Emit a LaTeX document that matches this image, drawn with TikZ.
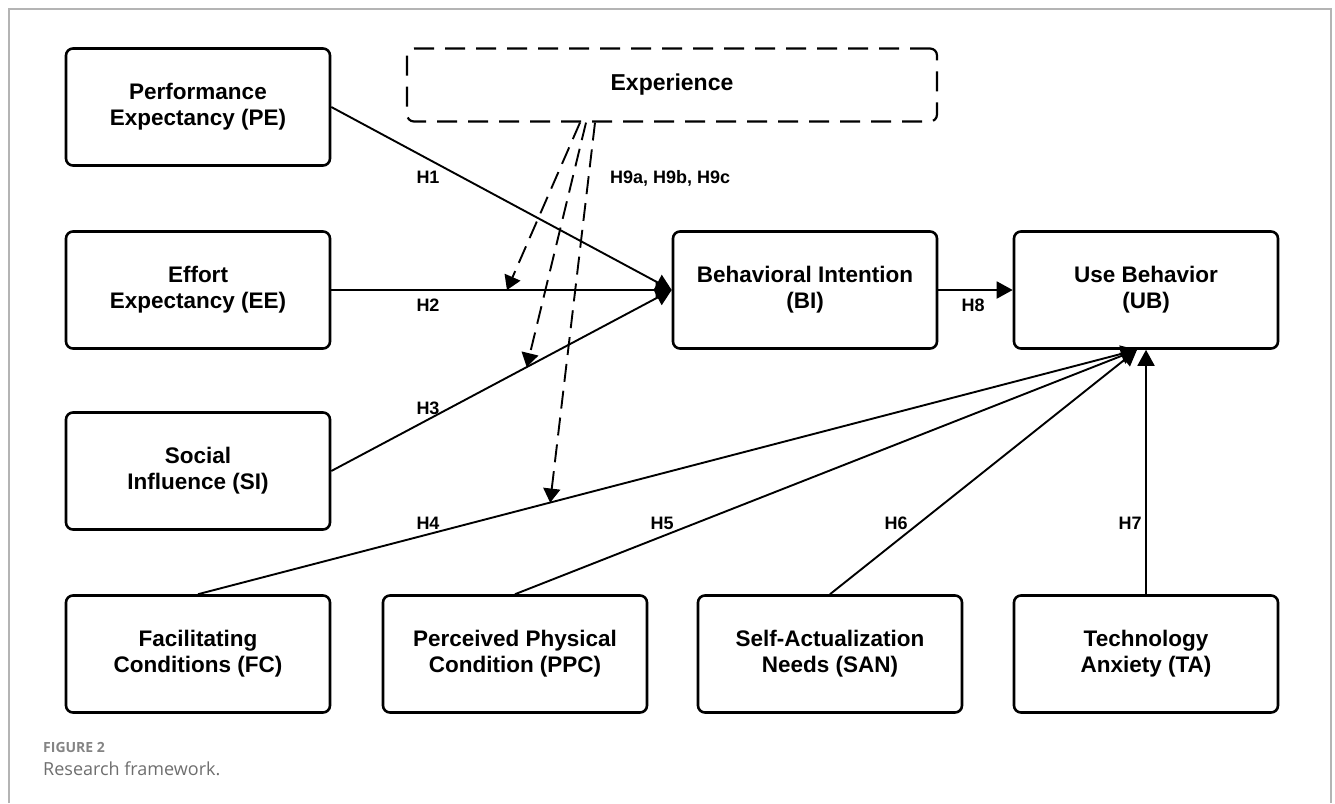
\documentclass[tikz,border=0pt]{standalone}
\usepackage{fontspec}
\setmainfont{Liberation Sans}
\newfontfamily\capfont{Open Sans}
\usetikzlibrary{arrows.meta,calc}
\definecolor{framegray}{HTML}{B4B4B4}
\definecolor{capgray}{HTML}{6E6E6E}
\newcommand\twoline[2]{\raisebox{-4pt}{\begin{tabular}{@{}c@{}}#1\\#2\end{tabular}}}
\begin{document}
\begin{tikzpicture}[x=1pt,y=-1pt,
  box/.style={draw, line width=2.6pt, rounded corners=7pt, minimum width=264pt, minimum height=117pt,
    inner sep=0pt, font=\fontsize{22.5}{26}\selectfont\bfseries},
  expbox/.style={draw, line width=2.2pt, rounded corners=7pt, dash pattern=on 20pt off 11pt,
    minimum width=530pt, minimum height=73pt, inner sep=0pt, font=\fontsize{23}{26}\selectfont\bfseries},
  conn/.style={line width=1.9pt, -{Triangle[length=16pt,width=17pt]}},
  modarr/.style={line width=1.9pt, dash pattern=on 18pt off 9pt, -{Triangle[length=14pt,width=17pt]}},
  hlab/.style={font=\fontsize{18}{21}\selectfont\bfseries, inner sep=0pt},
  frameline/.style={draw=framegray, line width=1.8pt}]
\useasboundingbox (0,0) rectangle (1335,803);
\draw[frameline] (9,803) -- (9,9) -- (1331,9) -- (1331,803);

% boxes
\node[box] (pe)  at (198,107) {\twoline{Performance}{Expectancy (PE)}};
\node[box] (ee)  at (198,290) {\twoline{Effort}{Expectancy (EE)}};
\node[box] (si)  at (198,471) {\twoline{Social}{Influence (SI)}};
\node[box] (fc)  at (198,654) {\twoline{Facilitating}{Conditions (FC)}};
\node[box] (ppc) at (515,654) {\twoline{Perceived Physical}{Condition (PPC)}};
\node[box] (san) at (830,654) {\twoline{Self-Actualization}{Needs (SAN)}};
\node[box] (ta)  at (1146,654) {\twoline{Technology}{Anxiety (TA)}};
\node[box] (bi)  at (805,290) {\twoline{Behavioral Intention}{(BI)}};
\node[box] (ub)  at (1146,290) {\twoline{Use Behavior}{(UB)}};
\node[expbox] (exp) at (672,85) {Experience};

% main connectors
\draw[conn] (pe.east) -- (bi.west);
\draw[conn] (ee.east) -- coordinate[pos=0.516] (m2) (bi.west);
\draw[conn] (si.east) -- coordinate[pos=0.574] (m3) (bi.west);
\draw[conn] (bi.east) -- (ub.west);
\coordinate (ubin) at ($(ub.south)+(-9,0)$);
\draw[conn] (fc.north) -- coordinate[pos=0.375] (m4) (ubin);
\draw[conn] (ppc.north) -- (ubin);
\draw[conn] (san.north) -- (ubin);
\draw[conn] (ta.north) -- (ub.south);

% moderating arrows
\coordinate (e1) at ($(exp.south)+(-92,0)$);
\coordinate (e2) at ($(exp.south)+(-86,0)$);
\coordinate (e3) at ($(exp.south)+(-77,0)$);
\draw[modarr] (e1) -- (m2);
\draw[modarr] (e2) -- (m3);
\draw[modarr] (e3) -- (m4);

% labels
\node[hlab] (h1) at (428,177) {H1};
\node[hlab] (h2) at (428,305) {H2};
\node[hlab] (h3) at (428,408) {H3};
\node[hlab] (h4) at (428,523) {H4};
\node[hlab] (h5) at (662,523) {H5};
\node[hlab] (h6) at (896,523) {H6};
\node[hlab] (h7) at (1130,523) {H7};
\node[hlab] (h8) at (973,305) {H8};
\node[hlab, anchor=west] (h9) at (610,178) {H9a, H9b, H9c};

% caption
\node[anchor=base west, inner sep=0pt, text=capgray!85, font=\capfont\fontsize{14}{16}\selectfont\bfseries] (fig) at (43,752) {FIGURE 2};
\node[anchor=base west, inner sep=0pt, text=capgray, font=\capfont\fontsize{18}{21}\selectfont] (cap) at (43,775) {Research framework.};
\end{tikzpicture}
\end{document}
